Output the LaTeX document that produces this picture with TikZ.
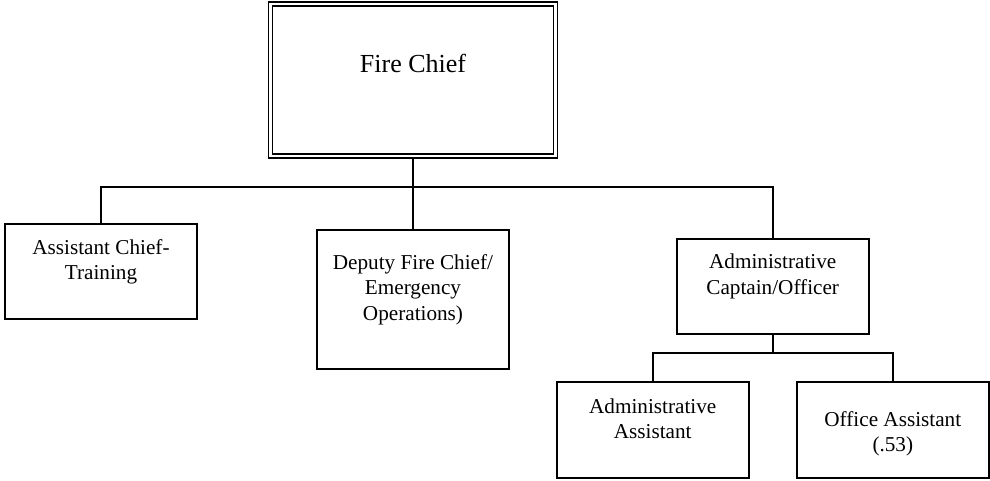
\documentclass[tikz,border=0pt]{standalone}
\usepackage{fontspec}
\setmainfont{Liberation Serif}
\begin{document}
\begin{tikzpicture}[x=1pt,y=-1pt,
  orgbox/.style={draw, line width=1.4pt, rectangle, inner sep=0pt, minimum width=192pt},
  chiefbox/.style={draw, double, line width=1.4pt, double distance=2.6pt, rectangle, inner sep=0pt,
    minimum width=284.5pt, minimum height=152pt},
  boxtext/.style={anchor=north, inner sep=0pt, align=center,
    font=\fontsize{21.2pt}{25.3pt}\selectfont},
  link/.style={line width=1.4pt}]
  \useasboundingbox (0,0) rectangle (990,481);

  % top position
  \node[chiefbox] (chief) at (413,80) {};
  \node[inner sep=0pt, font=\fontsize{26pt}{30pt}\selectfont] (chieftxt) at (413,63.5) {Fire Chief};

  % second level
  \node[orgbox, minimum height=95pt] (asst) at (101,271.5) {};
  \node[boxtext] (assttxt) at (101,239.3) {Assistant Chief-\\Training};

  \node[orgbox, minimum height=139pt] (deputy) at (413,299.5) {};
  \node[boxtext] (deputytxt) at (413,254.3) {Deputy Fire Chief/\\Emergency\\Operations)};

  \node[orgbox, minimum height=95pt] (capt) at (773,286.5) {};
  \node[boxtext] (capttxt) at (772.7,254) {Administrative\\Captain/Officer};

  % third level
  \node[orgbox, minimum height=96pt] (admasst) at (653,430) {};
  \node[boxtext] (admassttxt) at (652.7,398.3) {Administrative\\Assistant};

  \node[orgbox, minimum height=96pt] (office) at (893,430) {};
  \node[boxtext] (officetxt) at (892.8,411) {Office Assistant\\(.53)};

  % reporting lines
  \coordinate (bus1) at (413,187);
  \coordinate (bus2) at (773,353);
  \draw[link] (chief.south) -- (bus1);
  \draw[link] (asst.north) |- (bus1);
  \draw[link] (deputy.north) -- (bus1);
  \draw[link] (capt.north) |- (bus1);
  \draw[link] (capt.south) -- (bus2);
  \draw[link] (admasst.north) |- (bus2);
  \draw[link] (office.north) |- (bus2);
\end{tikzpicture}
\end{document}
